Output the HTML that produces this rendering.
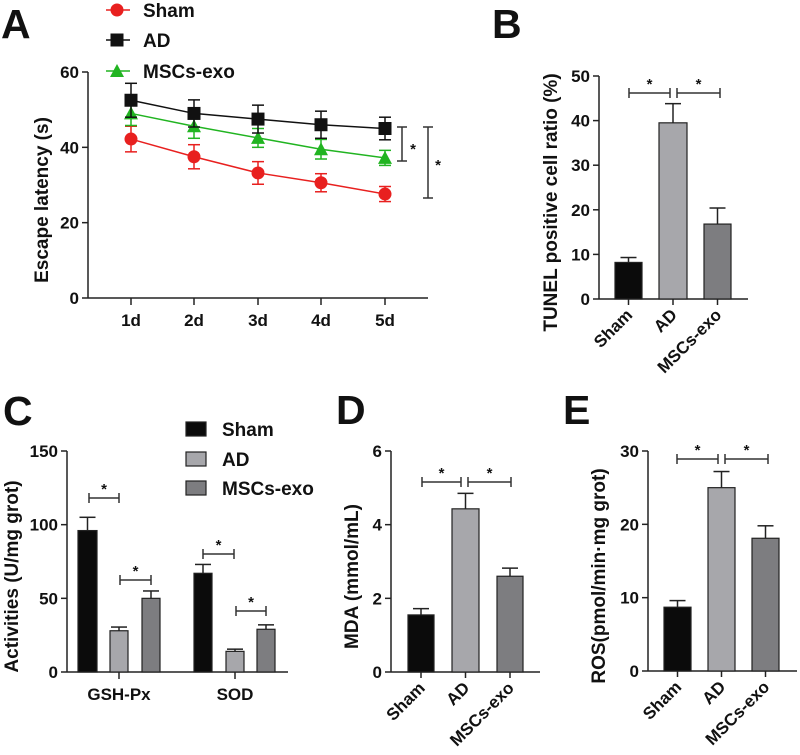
<!DOCTYPE html>
<html><head><meta charset="utf-8"><style>
html,body{margin:0;padding:0;background:#fff;}
svg{display:block;font-family:"Liberation Sans",Arial,sans-serif;}
text{font-weight:bold;fill:#111;}
</style></head><body>
<svg id="fig" width="800" height="755" viewBox="0 0 800 755" xmlns="http://www.w3.org/2000/svg"></svg>
<script>
// Panel A data
const daysA = ["1d","2d","3d","4d","5d"];
const shamA = [42.2,37.5,33.2,30.6,27.6];
const shamErrA = [3.4,3.2,3.0,2.4,2.0];
const adA = [52.5,49.0,47.5,46.0,45.0];
const adErrA = [4.5,3.6,3.7,3.6,3.0];
const mscA = [49.0,45.6,42.5,39.5,37.2];
const mscErrA = [3.2,3.2,2.5,2.6,2.0];
const ticksA = [0,20,40,60];
// Panel B
const groups = ["Sham","AD","MSCs-exo"];
const valB = [8.2,39.5,16.8];
const errB = [1.1,4.3,3.6];
const ticksB = [0,10,20,30,40,50];
// Panel C
const catsC = ["GSH-Px","SOD"];
const shamC = [96,67];
const shamErrC = [9,6];
const adC = [28,14];
const adErrC = [2.5,1.5];
const mscC = [50,29];
const mscErrC = [5,3];
const ticksC = [0,50,100,150];
// Panel D
const valD = [1.55,4.43,2.6];
const errD = [0.17,0.42,0.22];
const ticksD = [0,2,4,6];
// Panel E
const valE = [8.7,25.0,18.1];
const errE = [0.9,2.2,1.7];
const ticksE = [0,10,20,30];

const NS="http://www.w3.org/2000/svg";
const svg=document.getElementById('fig');
function mk(tag,attrs,parent,txt){
  const e=document.createElementNS(NS,tag);
  for(const k in attrs)e.setAttribute(k,attrs[k]);
  if(txt!==undefined)e.textContent=txt;
  (parent||svg).appendChild(e);return e;
}
function grp(name){const g=mk('g',{});
  
  
  return g;}
function line(g,x1,y1,x2,y2,c,w){return mk('line',{x1,y1,x2,y2,stroke:c||'#222','stroke-width':w||1.5},g);}
const fills=['#0b0b0b','#a7a7ab','#7d7d80'];

function letter(ch,x,y){const t=mk('text',{x,y,'font-size':41},svg,ch);
  
  }

function yAxis(g,ax,y0,y1,top,bottom,max,ticks,title,tx){
  const sy=v=>y0-(v/max)*(y0-y1);
  line(g,ax,y1,ax,y0);
  ticks.forEach(t=>{line(g,ax-6,sy(t),ax,sy(t));
    const tl=mk('text',{x:ax-9,y:sy(t)+6,'font-size':17,'text-anchor':'end'},g,t);
    
    });
  const ty=(y0+y1)/2+15;
  const tt=mk('text',{x:tx,y:ty,'font-size':19,'text-anchor':'middle',transform:`rotate(-90 ${tx} ${ty})`},g,title);
  
  
  return sy;
}
function bar(g,x0,x1,v,e,sy,y0,fill,name){
  const r=mk('rect',{x:x0,y:sy(v),width:x1-x0,height:y0-sy(v),fill,stroke:'#222','stroke-width':1.2},g);
  
  
  const cx=(x0+x1)/2;
  line(g,cx,sy(v),cx,sy(v+e),'#222',1.5);
  line(g,cx-8,sy(v+e),cx+8,sy(v+e),'#222',1.5);
}
function bracket(g,x1,x2,y){
  line(g,x1,y,x2,y,'#333',1.5);line(g,x1,y-5,x1,y+5,'#333',1.5);line(g,x2,y-5,x2,y+5,'#333',1.5);
  const s=mk('text',{x:(x1+x2)/2,y:y-4,'font-size':15,'font-weight':'normal','text-anchor':'middle'},g,'*');
  
  
}
function simpleBar(name,ax,y0,y1,axEnd,max,ticks,title,tx,bars,vals,errs,br1,br2,brY){
  const g=grp(name);
  const sy=yAxis(g,ax,y0,y1,0,0,max,ticks,title,tx);
  line(g,ax,y0,axEnd,y0);
  vals.forEach((v,i)=>{
    bar(g,bars[i][0],bars[i][1],v,errs[i],sy,y0,fills[i],'bar-'+groups[i].toLowerCase());
    const cx=(bars[i][0]+bars[i][1])/2;
    line(g,cx,y0,cx,y0+6);
    const lx=cx+5,ly=y0+17;
    const t=mk('text',{x:lx,y:ly,'font-size':17,'text-anchor':'end',transform:`rotate(-45 ${lx} ${ly})`},g,groups[i]);
    
    
  });
  bracket(g,br1[0],br1[1],brY);bracket(g,br2[0],br2[1],brY);
}

// ---- Panel A ----
letter('A',1,38);
(function(){
  const g=grp('panel-a-line-chart');
  const ax=88,y0=298,y1=72,xs=[131,194,258,321,385];
  const sy=yAxis(g,ax,y0,y1,0,0,60,ticksA,'Escape latency (s)',48);
  line(g,ax,y0,428,y0);
  daysA.forEach((d,i)=>{line(g,xs[i],y0,xs[i],y0+7);
    const t=mk('text',{x:xs[i],y:y0+28,'font-size':17,'text-anchor':'middle'},g,d);
    
    });
  const series=[[shamA,shamErrA,'#e8201f','circle','sham'],[mscA,mscErrA,'#21b421','tri','msc'],[adA,adErrA,'#111','square','ad']];
  function marker(p,x,y,c,type){
    if(type==='circle')return mk('circle',{cx:x,cy:y,r:6.5,fill:c},p);
    if(type==='square')return mk('rect',{x:x-6.5,y:y-6.5,width:13,height:13,fill:c},p);
    return mk('polygon',{points:`${x},${y-7} ${x-7},${y+6} ${x+7},${y+6}`,fill:c},p);
  }
  series.forEach(([v,e,c,type,nm])=>{
    const sg=mk('g',{},g);
    
    
    v.forEach((val,i)=>{
      line(sg,xs[i],sy(val-e[i]),xs[i],sy(val+e[i]),c,1.5);
      line(sg,xs[i]-6,sy(val+e[i]),xs[i]+6,sy(val+e[i]),c,1.5);
      line(sg,xs[i]-6,sy(val-e[i]),xs[i]+6,sy(val-e[i]),c,1.5);
    });
    mk('polyline',{points:v.map((val,i)=>xs[i]+','+sy(val)).join(' '),fill:'none',stroke:c,'stroke-width':1.5},sg);
    v.forEach((val,i)=>{const m=marker(sg,xs[i],sy(val),c,type);
      
      });
  });
  line(g,402,127,402,161,'#333',1.5);line(g,397,127,407,127,'#333',1.5);line(g,397,161,407,161,'#333',1.5);
  mk('text',{x:413,y:154,'font-size':15,'font-weight':'normal','text-anchor':'middle'},g,'*');
  line(g,428,127,428,198,'#333',1.5);line(g,423,127,433,127,'#333',1.5);line(g,423,198,433,198,'#333',1.5);
  mk('text',{x:438,y:170,'font-size':15,'font-weight':'normal','text-anchor':'middle'},g,'*');
  const lg=mk('g',{},g);
  
  
  [['Sham','#e8201f','circle',10],['AD','#111','square',40],['MSCs-exo','#21b421','tri',71]].forEach(([n,c,t,y])=>{
    line(lg,106,y,130,y,c,1.5);marker(lg,117,y,c,t);
    const tx=mk('text',{x:143,y:y+7,'font-size':19},lg,n);
    
    
  });
})();

// ---- Panel B ----
letter('B',492,38);
simpleBar('panel-b-tunel',599,299,76,748,50,ticksB,'TUNEL positive cell ratio (%)',557,
  [[615,642],[659,687],[704,731]],valB,errB,[629,670],[677,720],93);

// ---- Panel C ----
letter('C',3,425);
(function(){
  const g=grp('panel-c-activities');
  const ax=67,y0=672,y1=451;
  const sy=yAxis(g,ax,y0,y1,0,0,150,ticksC,'Activities (U/mg grot)',18);
  line(g,ax,y0,288,y0);
  const bx=[[[78,97],[110,128],[142,160]],[[194,212],[226,244],[257,275]]];
  const tx=[119,235];
  const sets=[[shamC,shamErrC],[adC,adErrC],[mscC,mscErrC]];
  catsC.forEach((c,ci)=>{
    sets.forEach(([v,e],si)=>bar(g,bx[ci][si][0],bx[ci][si][1],v[ci],e[ci],sy,y0,fills[si],'bar-'+c.toLowerCase()+'-'+groups[si].toLowerCase()));
    line(g,tx[ci],y0,tx[ci],y0+7);
    const t=mk('text',{x:tx[ci],y:y0+28,'font-size':17,'text-anchor':'middle'},g,c);
    
    
  });
  bracket(g,89,119,498);bracket(g,120,151,580);bracket(g,203,234,554);bracket(g,236,266,611);
  const lg=mk('g',{},g);
  
  
  [429,459,488].forEach((y,i)=>{
    mk('rect',{x:186,y:y-7,width:20,height:14,fill:fills[i],stroke:'#222','stroke-width':1.2},lg);
    const t=mk('text',{x:222,y:y+7,'font-size':19},lg,groups[i]);
    
    
  });
})();

// ---- Panel D ----
letter('D',336,424);
simpleBar('panel-d-mda',391,672,451,540,6,ticksD,'MDA (mmol/mL)',358,
  [[408,434],[452,479],[497,523]],valD,errD,[422,461],[468,511],482);

// ---- Panel E ----
letter('E',563,424);
simpleBar('panel-e-ros',648,671,451,797,30,ticksE,'ROS(pmol/min·mg grot)',605,
  [[664,691],[708,735],[752,779]],valE,errE,[677,718],[725,768],459);
</script>
</body></html>
